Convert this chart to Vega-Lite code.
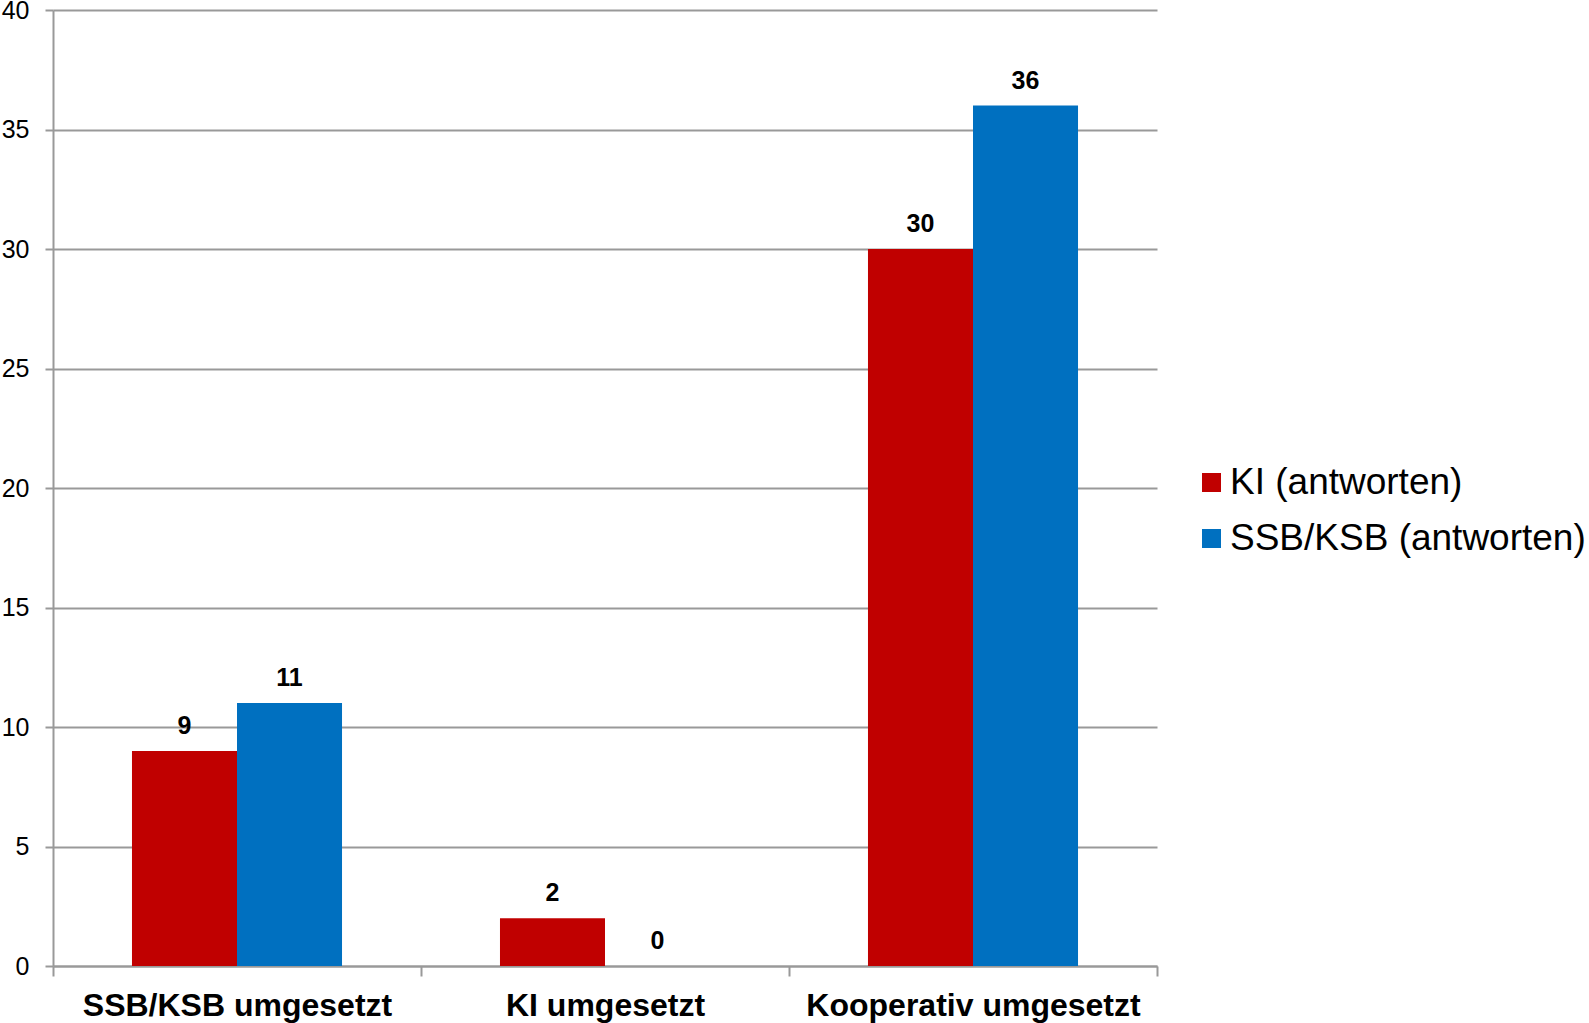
{
  "$schema": "https://vega.github.io/schema/vega-lite/v6.json",
  "width": 1104,
  "height": 956,
  "autosize": {"type": "none"},
  "padding": {"left": 53, "top": 10, "right": 432, "bottom": 57},
  "background": "white",
  "config": {
    "view": {"stroke": null},
    "font": "Liberation Sans"
  },
  "data": {
    "values": [
      {"kategorie": "SSB/KSB umgesetzt", "gruppe": "KI (antworten)", "wert": 9},
      {"kategorie": "SSB/KSB umgesetzt", "gruppe": "SSB/KSB (antworten)", "wert": 11},
      {"kategorie": "KI umgesetzt", "gruppe": "KI (antworten)", "wert": 2},
      {"kategorie": "KI umgesetzt", "gruppe": "SSB/KSB (antworten)", "wert": 0},
      {"kategorie": "Kooperativ umgesetzt", "gruppe": "KI (antworten)", "wert": 30},
      {"kategorie": "Kooperativ umgesetzt", "gruppe": "SSB/KSB (antworten)", "wert": 36}
    ]
  },
  "encoding": {
    "x": {
      "field": "kategorie",
      "type": "nominal",
      "sort": ["SSB/KSB umgesetzt", "KI umgesetzt", "Kooperativ umgesetzt"],
      "scale": {"paddingInner": 0, "paddingOuter": 0},
      "axis": {
        "title": null,
        "labelAngle": 0,
        "labelFont": "Liberation Sans",
        "labelFontWeight": "bold",
        "labelFontSize": 32,
        "labelColor": "#000000",
        "labelPadding": 14,
        "labelLimit": 0,
        "tickBand": "extent",
        "tickSize": 10,
        "tickColor": "#999999",
        "tickWidth": 2,
        "domainColor": "#999999",
        "domainWidth": 2,
        "grid": false
      }
    },
    "xOffset": {
      "field": "gruppe",
      "type": "nominal",
      "sort": ["KI (antworten)", "SSB/KSB (antworten)"],
      "scale": {"paddingInner": 0, "paddingOuter": 0.752}
    },
    "y": {
      "field": "wert",
      "type": "quantitative",
      "scale": {"domain": [0, 40], "nice": false},
      "axis": {
        "title": null,
        "values": [0, 5, 10, 15, 20, 25, 30, 35, 40],
        "labelFont": "Liberation Sans",
        "labelFontSize": 25,
        "labelColor": "#000000",
        "labelPadding": 16,
        "tickSize": 8,
        "tickColor": "#999999",
        "tickWidth": 2,
        "domainColor": "#999999",
        "domainWidth": 2,
        "grid": true,
        "gridColor": "#999999",
        "gridWidth": 2
      }
    }
  },
  "layer": [
    {
      "mark": {"type": "bar"},
      "encoding": {
        "color": {
          "field": "gruppe",
          "type": "nominal",
          "sort": ["KI (antworten)", "SSB/KSB (antworten)"],
          "scale": {"domain": ["KI (antworten)", "SSB/KSB (antworten)"], "range": ["#C00000", "#0070C0"]},
          "legend": {
            "title": null,
            "orient": "none",
            "legendX": 1140,
            "legendY": 454,
            "padding": 0,
            "symbolType": "square",
            "symbolSize": 361,
            "symbolStrokeWidth": 0,
            "labelFont": "Liberation Sans",
            "labelFontSize": 37,
            "labelColor": "#000000",
            "labelOffset": 0,
            "rowPadding": 18,
            "labelLimit": 500
          }
        }
      }
    },
    {
      "mark": {
        "type": "text",
        "baseline": "alphabetic",
        "dy": -17,
        "font": "Liberation Sans",
        "fontWeight": "bold",
        "fontSize": 25,
        "color": "#000000"
      },
      "encoding": {
        "text": {"field": "wert", "type": "quantitative"}
      }
    }
  ]
}
